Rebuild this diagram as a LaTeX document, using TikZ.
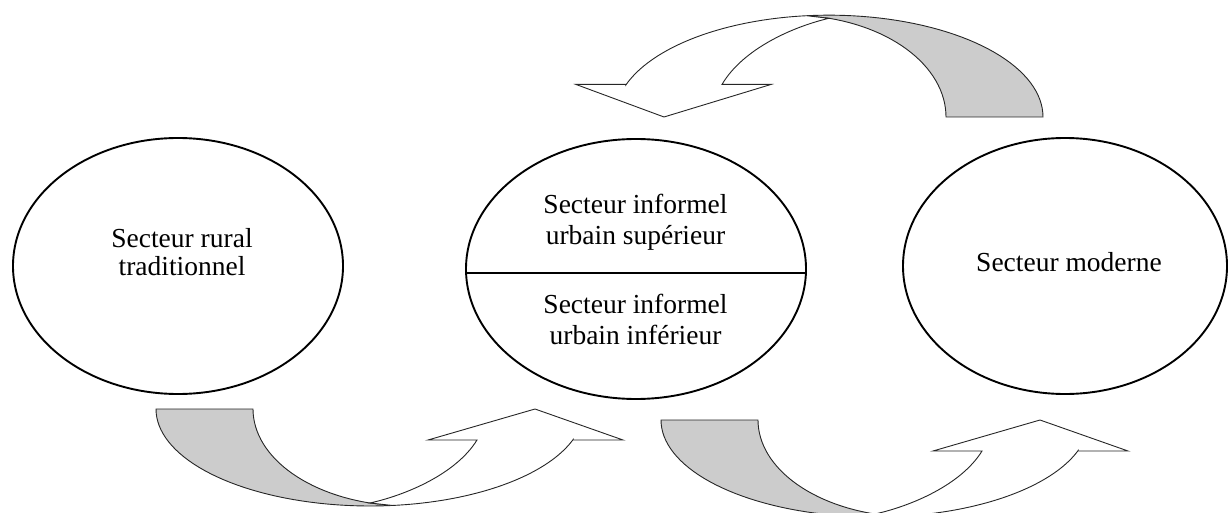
\documentclass[tikz,border=0pt]{standalone}
\usepackage{fontspec}
\setmainfont{Liberation Serif}
\usetikzlibrary{shapes.geometric,calc}
\definecolor{tailgray}{RGB}{204,204,204}
\begin{document}
\begin{tikzpicture}[x=1pt,y=-1pt,
  sector/.style={draw=black, line width=1.9pt, ellipse, inner sep=0pt, outer sep=0pt},
  lbl/.style={font=\fontsize{27.5}{28}\selectfont, align=center, inner sep=0pt},
  lblmid/.style={lbl, font=\fontsize{27.5}{31}\selectfont},
  band/.style={draw=black!85, line width=0.9pt, line join=miter},
  tailfill/.style={band, fill=tailgray},
  headfill/.style={band, fill=white},
  pics/curvedarrow/.style={code={
    \path[tailfill] (0,0) -- (97,0)
      -- plot[domain=0:1, samples=30, variable=\t] ({252+155*cos(180-75.8*\t)},{97*sin(180-75.8*\t)})
      -- plot[domain=0:1, samples=40, variable=\t] ({214+214*cos(84+96*\t)},{97*sin(84+96*\t)})
      -- cycle;
    \path[headfill] (214,94) .. controls (250,86) and (300,65) .. (321,31)
      -- (272,31) -- (379,0) -- (467,31) -- (417,31)
      -- plot[domain=0:1, samples=40, variable=\t] ({214+214*cos(18.4+65.6*\t)},{97*sin(18.4+65.6*\t)})
      -- cycle;
  }}
]
\useasboundingbox (0,0) rectangle (1228,513);

% sectors
\node[sector, minimum width=330pt, minimum height=256pt] (rural) at (178,266) {};
\node[sector, minimum width=340pt, minimum height=260pt] (mid) at (636,269) {};
\node[sector, minimum width=324pt, minimum height=256pt] (mod) at (1065,266) {};
\draw[line width=1.9pt] ($(mid.west)+(0,4)$) -- ($(mid.east)+(0,4)$);

% labels
\node[lbl] (ruraltxt) at (182,252) {Secteur rural\\traditionnel};
\node[lblmid] (suptxt) at (635.5,222) {Secteur informel\\urbain supérieur};
\node[lblmid] (inftxt) at (635.5,319) {Secteur informel\\urbain inférieur};
\node[lbl, anchor=base] (modtxt) at (1069,271.7) {Secteur moderne};

% curved arrows
\pic at (156,409) {curvedarrow};
\pic at (661,420) {curvedarrow};
\pic[rotate=180, yscale=1.05] at (1043,117) {curvedarrow};
\end{tikzpicture}
\end{document}
